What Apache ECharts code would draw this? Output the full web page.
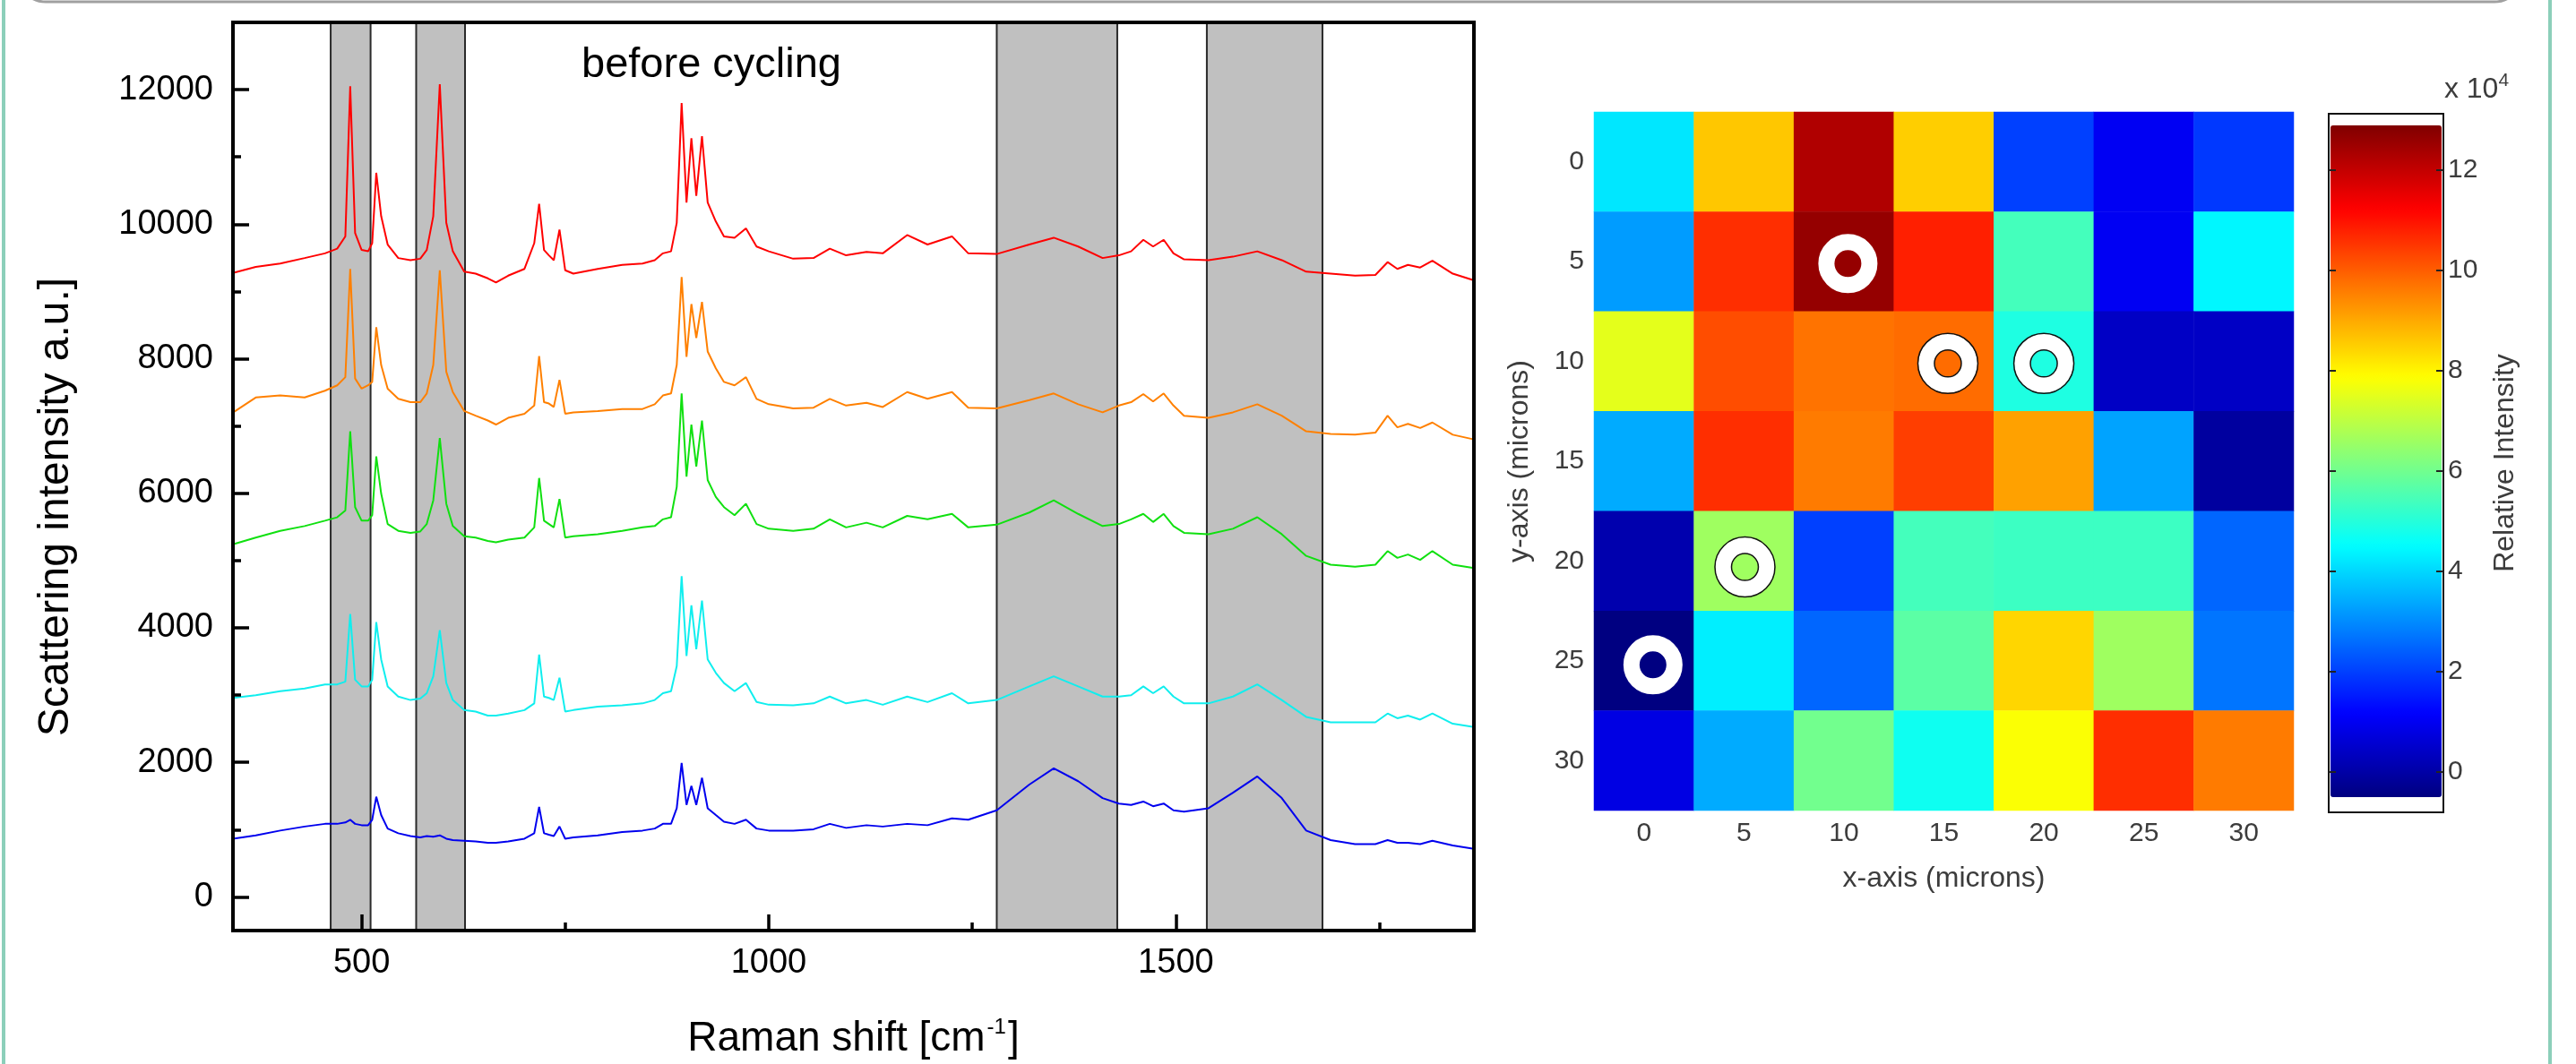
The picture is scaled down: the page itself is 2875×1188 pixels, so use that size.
<!DOCTYPE html>
<html>
<head>
<meta charset="utf-8">
<title>Raman spectra and intensity map</title>
<script src="https://cdn.jsdelivr.net/npm/echarts@6.0.0/dist/echarts.min.js"></script>
<style>
  html, body { margin: 0; padding: 0; background: #fff; }
  #chart { width: 2875px; height: 1188px; }
</style>
</head>
<body>
<div id="chart"></div>
<script>
// Raman shift positions (cm-1) shared by the five spectra
var ramanShift = [
  342, 370, 400, 430, 455, 470, 480, 486, 492, 500,
  508, 513, 518, 524, 532, 545, 560, 572, 580, 588,
  596, 604, 612, 626, 640, 655, 665, 680, 700, 712,
  718, 724, 730, 736, 743, 750, 760, 790, 820, 845,
  860, 870, 880, 887, 893, 899, 905, 911, 918, 925,
  935, 945, 958, 972, 985, 1000, 1030, 1055, 1075, 1095,
  1120, 1140, 1170, 1195, 1225, 1245, 1280, 1320, 1350, 1380,
  1410, 1430, 1445, 1460, 1472, 1485, 1497, 1510, 1540, 1570,
  1600, 1630, 1660, 1690, 1720, 1745, 1760, 1772, 1785, 1800,
  1815, 1840, 1866
];
var spectrumRed = [
  9275, 9366, 9415, 9497, 9567, 9637, 9818, 12052, 9869, 9617,
  9597, 9718, 10764, 10120, 9698, 9497, 9466, 9487, 9617, 10120,
  12082, 10020, 9597, 9295, 9265, 9195, 9134, 9235, 9336, 9718,
  10301, 9617, 9537, 9466, 9919, 9316, 9265, 9336, 9396, 9416,
  9466, 9567, 9597, 10020, 11800, 10322, 11277, 10422, 11307, 10322,
  10040, 9818, 9798, 9939, 9668, 9597, 9487, 9497, 9637, 9537,
  9587, 9567, 9839, 9698, 9819, 9567, 9557, 9698, 9799, 9668,
  9497, 9537, 9597, 9768, 9668, 9768, 9567, 9477, 9466, 9517,
  9597, 9466, 9295, 9265, 9235, 9245, 9436, 9336, 9396, 9356,
  9456, 9265, 9165
];
var spectrumOrange = [
  7200, 7424, 7454, 7424, 7525, 7605, 7726, 9335, 7706, 7555,
  7605, 7656, 8470, 7907, 7555, 7404, 7354, 7354, 7484, 7907,
  9315, 7806, 7505, 7223, 7153, 7082, 7022, 7122, 7183, 7304,
  8038, 7354, 7334, 7283, 7686, 7183, 7203, 7223, 7253, 7253,
  7324, 7454, 7484, 7907, 9215, 8028, 8813, 8310, 8843, 8108,
  7857, 7656, 7605, 7726, 7404, 7324, 7263, 7273, 7404, 7304,
  7344, 7283, 7505, 7404, 7505, 7273, 7263, 7384, 7484, 7324,
  7203, 7304, 7354, 7475, 7364, 7484, 7304, 7153, 7122, 7203,
  7324, 7153, 6921, 6881, 6871, 6901, 7153, 6981, 7032, 6971,
  7052, 6871, 6801
];
var spectrumGreen = [
  5241, 5342, 5442, 5513, 5593, 5643, 5744, 6921, 5794, 5593,
  5593, 5674, 6549, 5996, 5543, 5442, 5412, 5432, 5543, 5895,
  6821, 5845, 5513, 5362, 5342, 5292, 5271, 5312, 5342, 5493,
  6227, 5593, 5543, 5493, 5915, 5342, 5362, 5392, 5442, 5493,
  5513, 5613, 5644, 6096, 7485, 6247, 7022, 6398, 7082, 6197,
  5946, 5795, 5674, 5845, 5543, 5473, 5442, 5473, 5613, 5493,
  5563, 5493, 5664, 5613, 5694, 5493, 5533, 5714, 5895, 5694,
  5513, 5543, 5613, 5694, 5573, 5694, 5513, 5412, 5392, 5473,
  5644, 5392, 5070, 4939, 4909, 4939, 5141, 5040, 5090, 5010,
  5141, 4939, 4889
];
var spectrumCyan = [
  2958, 2998, 3058, 3098, 3159, 3159, 3199, 4205, 3229, 3129,
  3129, 3229, 4084, 3531, 3129, 2978, 2927, 2948, 3028, 3280,
  3964, 3179, 2927, 2777, 2756, 2696, 2696, 2726, 2777, 2877,
  3601, 2978, 2958, 2927, 3259, 2756, 2777, 2827, 2847, 2877,
  2927, 3028, 3058, 3430, 4768, 3581, 4336, 3682, 4406, 3531,
  3330, 3179, 3058, 3179, 2897, 2857, 2847, 2877, 2978, 2877,
  2927, 2857, 2978, 2897, 3028, 2877, 2927, 3129, 3280, 3129,
  2978, 2978, 2998, 3129, 3028, 3129, 2978, 2877, 2877, 2978,
  3159, 2927, 2676, 2596, 2596, 2596, 2726, 2656, 2696, 2636,
  2726, 2575, 2525
];
var spectrumBlue = [
  865, 915, 986, 1046, 1086, 1086, 1107, 1147, 1086, 1066,
  1066, 1147, 1489, 1217, 1016, 946, 905, 885, 905, 895,
  915, 865, 845, 835, 825, 805, 805, 825, 865, 946,
  1338, 946, 925, 905, 1046, 865, 885, 915, 966, 986,
  1016, 1086, 1086, 1318, 1992, 1368, 1650, 1368, 1771, 1318,
  1217, 1117, 1086, 1147, 1016, 986, 986, 1006, 1086, 1026,
  1066, 1046, 1086, 1066, 1167, 1147, 1288, 1670, 1911, 1720,
  1469, 1388, 1368, 1418, 1348, 1388, 1288, 1268, 1318, 1549,
  1791, 1469, 986, 845, 785, 785, 845, 805, 805, 785,
  835, 765, 714
];
var shadedBands = [[462, 511], [567, 627], [1280, 1428], [1538, 1680]];
var shiftTicks = [500, 1000, 1500];
var shiftMinorTicks = [750, 1250, 1750];
var intensityTicks = [0, 2000, 4000, 6000, 8000, 10000, 12000];
var intensityMinorTicks = [1000, 3000, 5000, 7000, 9000, 11000];

// intensity map, x 10^4, one row per y position
var mapX = ['0', '5', '10', '15', '20', '25', '30'];
var mapY = ['0', '5', '10', '15', '20', '25', '30'];
var mapRows = [
  [4.2, 8.6, 12.25, 8.5, 2.0, 1.0, 1.9],
  [3.2, 10.6, 12.6, 10.8, 5.4, 1.0, 4.4],
  [7.5, 10.2, 9.7, 9.8, 4.9, 0.4, 0.4],
  [3.4, 10.6, 9.6, 10.4, 9.1, 3.3, -0.1],
  [0.1, 6.6, 2.0, 5.4, 5.3, 5.3, 2.5],
  [-0.5, 4.3, 2.5, 5.7, 8.4, 6.6, 2.7],
  [0.8, 3.4, 6.0, 4.7, 7.8, 10.6, 9.6]
];
var colorbarTicks = [0, 2, 4, 6, 8, 10, 12];
// marked spots, microns
var spotsPlain = [[10.2, 5.1], [0.45, 25.2]];
var spotsOutlined = [[15.2, 10.1], [20, 10.1], [5.05, 20.3]];

var FONT = '"Liberation Sans", Arial, sans-serif';

function pairs(ys) {
  return ramanShift.map(function (x, i) { return [x, ys[i]]; });
}

var mapData = [];
mapRows.forEach(function (row, yi) {
  row.forEach(function (v, xi) { mapData.push([xi, yi, v]); });
});

var jet = ['#000080', '#0000ff', '#0080ff', '#00ffff', '#80ff80',
           '#ffff00', '#ff8000', '#ff0000', '#800000'];

var chart = echarts.init(document.getElementById('chart'));

function spectrum(data, color) {
  return {
    type: 'line', xAxisIndex: 0, yAxisIndex: 0, data: pairs(data),
    symbol: 'none', lineStyle: { color: color, width: 2 }, z: 3, silent: true
  };
}

var frameLine = { show: true, onZero: false, lineStyle: { color: '#000', width: 4 } };

var option = {
  animation: false,
  backgroundColor: '#fff',
  grid: [
    { left: 260, top: 25, width: 1385, height: 1017, show: true, z: 6,
      borderColor: '#000', borderWidth: 4, backgroundColor: 'transparent' },
    { left: 1779, top: 125, width: 781, height: 780 },
    { left: 1779, top: 125, width: 781, height: 780 },
    { left: 2599, top: 127, width: 128, height: 780, show: true, z: 6,
      borderColor: '#111', borderWidth: 2, backgroundColor: 'transparent' }
  ],
  xAxis: [
    { type: 'value', gridIndex: 0, position: 'bottom', min: 342, max: 1866, z: 7,
      axisLine: frameLine, splitLine: { show: false },
      axisTick: { show: true, inside: true, length: 18, customValues: shiftTicks,
        lineStyle: { color: '#000', width: 3.5 } },
      axisLabel: { customValues: shiftTicks, margin: 18, color: '#000',
        fontFamily: FONT, fontSize: 38, formatter: function (v) { return String(v); } },
      name: '{a|Raman shift [cm}{s|-1}{a|]}', nameLocation: 'middle', nameGap: 96,
      nameTextStyle: { rich: {
        a: { fontFamily: FONT, fontSize: 46, color: '#000', lineHeight: 50 },
        s: { fontFamily: FONT, fontSize: 24, color: '#000', lineHeight: 50, verticalAlign: 'top', padding: [0, 2, 0, 2] }
      } } },
    { type: 'value', gridIndex: 0, position: 'bottom', min: 342, max: 1866, z: 7,
      axisLine: { show: false, onZero: false }, splitLine: { show: false }, axisLabel: { show: false },
      axisTick: { show: true, inside: true, length: 9, customValues: shiftMinorTicks,
        lineStyle: { color: '#000', width: 3.5 } } },
    { type: 'category', gridIndex: 1, data: mapX,
      axisLine: { show: false, onZero: false }, axisTick: { show: false },
      axisLabel: { margin: 11, color: '#3c3c3c', fontFamily: FONT, fontSize: 30 },
      name: 'x-axis (microns)', nameLocation: 'middle', nameGap: 60,
      nameTextStyle: { color: '#3c3c3c', fontFamily: FONT, fontSize: 32 } },
    { type: 'value', gridIndex: 2, min: -2.5, max: 32.5, show: false },
    { type: 'value', gridIndex: 3, min: 0, max: 1, show: false }
  ],
  yAxis: [
    { type: 'value', gridIndex: 0, position: 'left', min: -500, max: 13000, z: 7,
      axisLine: frameLine, splitLine: { show: false },
      axisTick: { show: true, inside: true, length: 18, customValues: intensityTicks,
        lineStyle: { color: '#000', width: 3.5 } },
      axisLabel: { customValues: intensityTicks, margin: 22, color: '#000',
        fontFamily: FONT, fontSize: 38, formatter: function (v) { return String(v); } } },
    { type: 'value', gridIndex: 0, position: 'left', min: -500, max: 13000, z: 7,
      axisLine: { show: false, onZero: false }, splitLine: { show: false }, axisLabel: { show: false },
      axisTick: { show: true, inside: true, length: 9, customValues: intensityMinorTicks,
        lineStyle: { color: '#000', width: 3.5 } } },
    { type: 'category', gridIndex: 1, data: mapY, inverse: true,
      axisLine: { show: false, onZero: false }, axisTick: { show: false },
      axisLabel: { margin: 11, color: '#3c3c3c', fontFamily: FONT, fontSize: 30 },
      name: 'y-axis (microns)', nameLocation: 'middle', nameGap: 67,
      nameTextStyle: { color: '#3c3c3c', fontFamily: FONT, fontSize: 32 } },
    { type: 'value', gridIndex: 2, min: -2.5, max: 32.5, inverse: true, show: false },
    { type: 'value', gridIndex: 3, min: -0.81, max: 13.12, position: 'right', z: 7,
      axisLine: { show: false, onZero: false }, splitLine: { show: false },
      axisTick: { show: true, inside: true, length: 8, customValues: colorbarTicks,
        lineStyle: { color: '#222', width: 2 } },
      axisLabel: { customValues: colorbarTicks, margin: 5, color: '#3c3c3c',
        fontFamily: FONT, fontSize: 30 },
      name: 'Relative Intensity', nameLocation: 'middle', nameGap: 53, nameRotate: 90,
      nameTextStyle: { color: '#3c3c3c', fontFamily: FONT, fontSize: 32 } },
    { type: 'value', gridIndex: 3, min: -0.81, max: 13.12, position: 'left', z: 7,
      axisLine: { show: false, onZero: false }, splitLine: { show: false }, axisLabel: { show: false },
      axisTick: { show: true, inside: true, length: 8, customValues: colorbarTicks,
        lineStyle: { color: '#222', width: 2 } } }
  ],
  visualMap: {
    type: 'continuous', seriesIndex: 6, min: -0.51, max: 12.88,
    calculable: false, orient: 'vertical', left: 2601, top: 140,
    itemWidth: 124, itemHeight: 750, padding: 0, text: null,
    inRange: { color: jet }
  },
  graphic: [
    { type: 'line', shape: { x1: 4, y1: 0, x2: 4, y2: 1188 },
      style: { stroke: '#8ccfba', lineWidth: 4 } },
    { type: 'line', shape: { x1: 2846, y1: 0, x2: 2846, y2: 1188 },
      style: { stroke: '#8ccfba', lineWidth: 4 } },
    { type: 'rect', shape: { x: 20, y: -60, width: 2795, height: 62, r: 40 },
      style: { fill: 'none', stroke: '#a0a0a0', lineWidth: 3 } },
    { type: 'text', x: 794, y: 73,
      style: { text: 'before cycling', font: '47px ' + FONT, fill: '#000',
        align: 'center', verticalAlign: 'middle' } },
    { type: 'text', x: 63, y: 566, rotation: Math.PI / 2,
      style: { text: 'Scattering intensity a.u.]', font: '48px ' + FONT, fill: '#000',
        align: 'center', verticalAlign: 'middle' } },
    { type: 'text', x: 2764, y: 100,
      style: { text: '{a|x 10}{b|4}', align: 'center', verticalAlign: 'middle',
        rich: {
          a: { font: '32px ' + FONT, fill: '#3c3c3c', lineHeight: 40 },
          b: { font: '21px ' + FONT, fill: '#3c3c3c', lineHeight: 40, verticalAlign: 'top' }
        } } }
  ],
  series: [
    { type: 'line', xAxisIndex: 0, yAxisIndex: 0, data: [], z: 1, silent: true,
      markArea: { silent: true,
        itemStyle: { color: '#c0c0c0', borderColor: '#2a2a2a', borderWidth: 2 },
        data: shadedBands.map(function (b) { return [{ xAxis: b[0] }, { xAxis: b[1] }]; }) } },
    spectrum(spectrumBlue, '#0000ee'),
    spectrum(spectrumCyan, '#10eeee'),
    spectrum(spectrumGreen, '#10e010'),
    spectrum(spectrumOrange, '#ff8000'),
    spectrum(spectrumRed, '#ff0000'),
    { type: 'heatmap', xAxisIndex: 2, yAxisIndex: 2, data: mapData, silent: true },
    { type: 'scatter', xAxisIndex: 3, yAxisIndex: 3, z: 5, silent: true,
      data: spotsPlain.concat(spotsOutlined), symbol: 'circle', symbolSize: 48,
      itemStyle: { color: 'rgba(0,0,0,0)', borderColor: '#fff', borderWidth: 18, opacity: 1 } },
    { type: 'scatter', xAxisIndex: 3, yAxisIndex: 3, z: 6, silent: true,
      data: spotsOutlined, symbol: 'circle', symbolSize: 67,
      itemStyle: { color: 'rgba(0,0,0,0)', borderColor: '#111', borderWidth: 1.5, opacity: 1 } },
    { type: 'scatter', xAxisIndex: 3, yAxisIndex: 3, z: 6, silent: true,
      data: spotsOutlined, symbol: 'circle', symbolSize: 30,
      itemStyle: { color: 'rgba(0,0,0,0)', borderColor: '#111', borderWidth: 1.5, opacity: 1 } }
  ]
};

chart.setOption(option);
</script>
</body>
</html>
